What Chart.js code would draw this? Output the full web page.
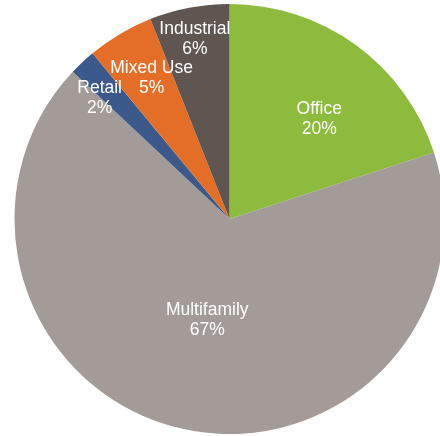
<!DOCTYPE html>
<html>
<head>
<meta charset="utf-8">
<script src="https://cdn.jsdelivr.net/npm/chart.js@4/dist/chart.umd.min.js"></script>
<style>
  html, body { margin: 0; padding: 0; background: #fff; overflow: hidden; }
  body { width: 440px; height: 436px; position: relative; }
  #wrap { position: absolute; left: 0; top: 4px; width: 459px; height: 430px; }
</style>
</head>
<body>
<div id="wrap"><canvas id="pie"></canvas></div>
<script>
// Portfolio share by property type (percent)
const categories = ['Office', 'Multifamily', 'Retail', 'Mixed Use', 'Industrial'];
const shares = [20, 67, 2, 5, 6];
const sliceColors = ['#8DBB3D', '#A39B97', '#3B5A8B', '#E46D27', '#5F5651'];

// Where each label sits: fraction of the radius, and a turn (degrees) off the slice middle
const labelRadius = [0.63, 0.475, 0.83, 0.757, 0.86];
const labelTurn = [5.5, 0, -3.5, 2, 0];

const sliceLabels = {
  id: 'sliceLabels',
  afterDatasetsDraw(chart) {
    const ctx = chart.ctx;
    const meta = chart.getDatasetMeta(0);
    ctx.save();
    ctx.fillStyle = '#ffffff';
    ctx.font = '17.5px "Liberation Sans", Arial, sans-serif';
    ctx.textAlign = 'center';
    ctx.textBaseline = 'middle';
    meta.data.forEach((arc, i) => {
      const p = arc.getProps(['x', 'y', 'startAngle', 'endAngle', 'outerRadius'], true);
      const mid = (p.startAngle + p.endAngle) / 2 + labelTurn[i] * Math.PI / 180;
      const r = p.outerRadius * labelRadius[i];
      const x = p.x + Math.cos(mid) * r;
      const y = p.y + Math.sin(mid) * r + 2;
      ctx.fillText(categories[i], x, y - 10);
      ctx.fillText(shares[i] + '%', x, y + 10);
    });
    ctx.restore();
  }
};

new Chart(document.getElementById('pie'), {
  type: 'pie',
  data: {
    labels: categories,
    datasets: [{
      data: shares,
      backgroundColor: sliceColors,
      borderWidth: 0,
      hoverOffset: 0
    }]
  },
  options: {
    responsive: true,
    maintainAspectRatio: false,
    animation: false,
    layout: { padding: 0 },
    plugins: {
      legend: { display: false },
      tooltip: { enabled: false }
    }
  },
  plugins: [sliceLabels]
});
</script>
</body>
</html>
